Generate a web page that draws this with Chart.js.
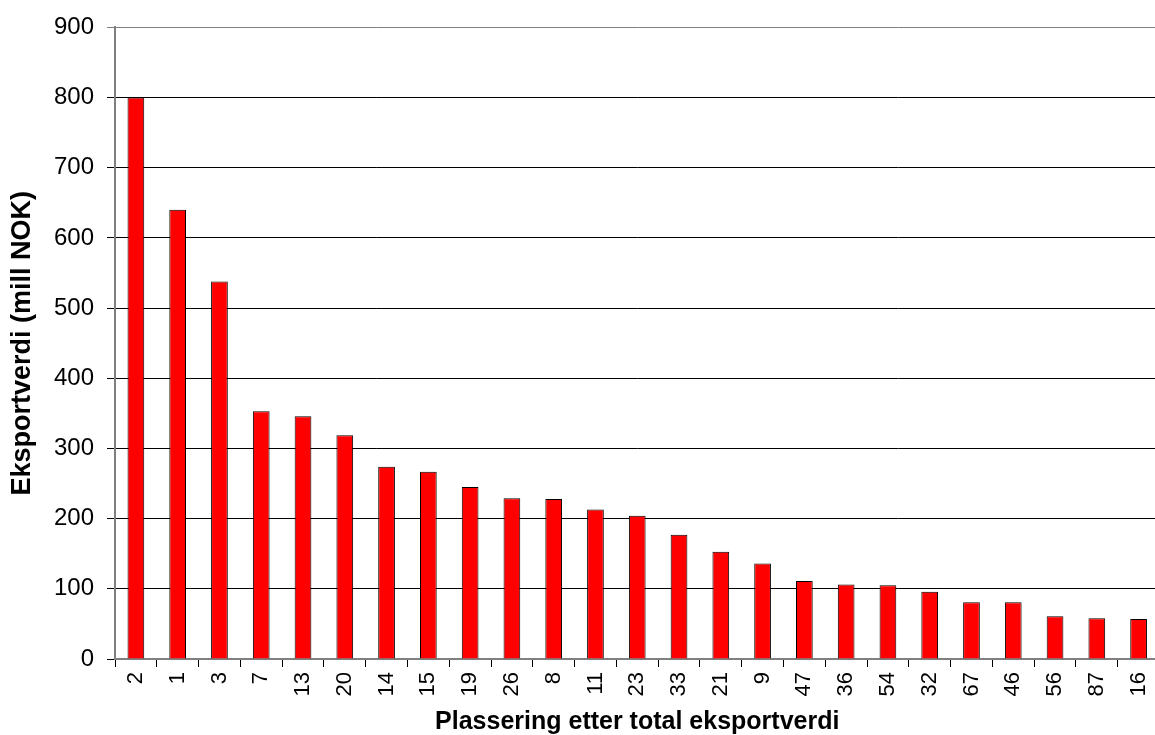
<!DOCTYPE html>
<html>
<head>
<meta charset="utf-8">
<script src="https://cdn.jsdelivr.net/npm/chart.js@4"></script>
<style>
    html, body { margin: 0; padding: 0; background: #fff; overflow: hidden; }
    #wrap { width: 1170px; height: 735px; }
</style>
</head>
<body>
<div id="wrap"><canvas id="exportChart" width="1170" height="735"></canvas></div>
<script>
// Plassering etter total eksportverdi (kategorier)
const plasseringer = ['2', '1', '3', '7', '13', '20', '14', '15', '19', '26', '8', '11', '23',
    '33', '21', '9', '47', '36', '54', '32', '67', '46', '56', '87', '16'];

// Eksportverdi i mill NOK
const eksportverdi = [800, 640, 538, 353, 346, 319, 274, 267, 245, 229, 228, 213, 204,
    177, 153, 136, 111, 106, 105, 96, 81, 81, 61, 58, 57];

// Y-akse
const yMin = 0;
const yMax = 900;
const yStep = 100;

const fontFamily = '"Liberation Sans", Arial, sans-serif';

const ctx = document.getElementById('exportChart');
new Chart(ctx, {
    type: 'bar',
    data: {
        labels: plasseringer,
        datasets: [{
            label: 'Eksportverdi',
            data: eksportverdi,
            backgroundColor: '#ff0000',
            borderColor: '#000000',
            borderWidth: 1,
            categoryPercentage: 1.0,
            barPercentage: 0.4
        }]
    },
    options: {
        responsive: false,
        animation: false,
        layout: {
            padding: { top: 23, right: 0, bottom: 0, left: 0 }
        },
        plugins: {
            legend: { display: false },
            tooltip: { enabled: false }
        },
        scales: {
            x: {
                grid: {
                    drawOnChartArea: false,
                    drawTicks: true,
                    tickLength: 8,
                    color: '#000000'
                },
                border: { color: '#808080', width: 2 },
                ticks: {
                    minRotation: 90,
                    maxRotation: 90,
                    autoSkip: false,
                    padding: 5,
                    color: '#000000',
                    font: { family: fontFamily, size: 22 }
                },
                title: {
                    display: true,
                    text: 'Plassering etter total eksportverdi',
                    color: '#000000',
                    padding: { top: 0, bottom: 0 },
                    font: { family: fontFamily, size: 25, weight: 'bold', lineHeight: 1.0 }
                },
                afterFit: function (scale) {
                    scale.height = 76;
                }
            },
            y: {
                min: yMin,
                max: yMax,
                ticks: {
                    stepSize: yStep,
                    padding: 13,
                    color: '#000000',
                    font: { family: fontFamily, size: 24 }
                },
                grid: {
                    tickLength: 8,
                    lineWidth: 1,
                    color: function (c) {
                        return c.tick && c.tick.value === yMax ? '#808080' : '#000000';
                    }
                },
                border: { color: '#808080', width: 2 },
                title: {
                    display: true,
                    text: 'Eksportverdi (mill NOK)',
                    color: '#000000',
                    padding: { top: 9, bottom: 0 },
                    font: { family: fontFamily, size: 27, weight: 'bold', lineHeight: 1.0 }
                },
                afterFit: function (scale) {
                    scale.width = 115;
                }
            }
        }
    }
});
</script>
</body>
</html>
